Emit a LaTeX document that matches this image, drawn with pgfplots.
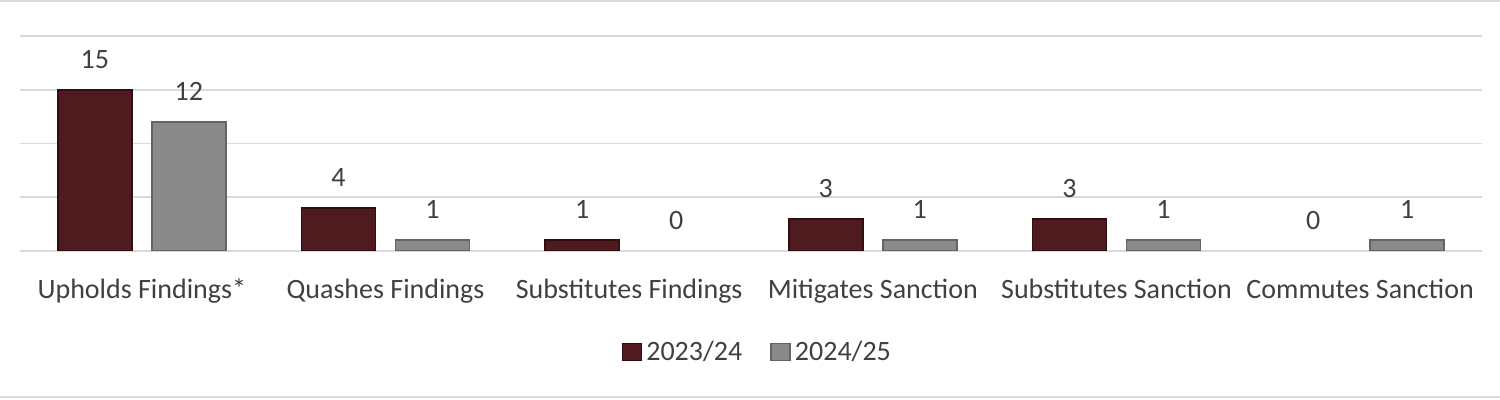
\documentclass[border=0pt]{standalone}
\usepackage{fontspec}
\setmainfont{Carlito}
\usepackage{pgfplots}
\pgfplotsset{compat=1.18}
\definecolor{maroon}{RGB}{80,27,31}
\definecolor{maroontop}{RGB}{140,80,84}
\definecolor{maroonbot}{RGB}{58,17,20}
\definecolor{maroonedge}{RGB}{48,14,17}
\definecolor{barg}{RGB}{138,138,138}
\definecolor{bargtop}{RGB}{200,200,200}
\definecolor{bargbot}{RGB}{112,112,112}
\definecolor{bargedge}{RGB}{100,100,100}
\definecolor{gridc}{RGB}{217,217,217}
\definecolor{txt}{RGB}{64,64,64}
\pgfdeclareverticalshading{mshade}{100bp}{color(0bp)=(maroonbot); color(4bp)=(maroonbot); color(8bp)=(maroon); color(88bp)=(maroon); color(92bp)=(maroontop); color(96bp)=(maroontop); color(100bp)=(maroontop)}
\pgfdeclareverticalshading{gshade}{100bp}{color(0bp)=(bargbot); color(4bp)=(bargbot); color(8bp)=(barg); color(88bp)=(barg); color(92bp)=(bargtop); color(96bp)=(bargtop); color(100bp)=(bargtop)}
\begin{document}
\begin{tikzpicture}
\path[use as bounding box] (0,0) rectangle (750pt,200pt);
\draw[gridc, line width=1pt] (0,199.4pt) -- (750pt,199.4pt);
\draw[gridc, line width=1pt] (0,1.3pt) -- (750pt,1.3pt);
\begin{axis}[
  at={(10pt,74.5pt)}, anchor=south west,
  scale only axis, width=731pt, height=107.5pt,
  xmin=-0.5, xmax=5.5, ymin=0, ymax=20,
  axis line style={draw=none},
  major tick length=0pt,
  ytick={0,5,10,15,20}, yticklabels={},
  ymajorgrids, grid style={gridc, line width=0.8pt},
  xtick={0,1,2,3,4,5},
  xticklabels={Upholds Findings*, Quashes Findings, Substitutes Findings, Mitigates Sanction, Substitutes Sanction, Commutes Sanction},
  x tick label style={font=\fontsize{14}{16}\selectfont, text=txt, text height=10pt, text depth=3pt, yshift=-10pt},
  bar width=37pt,
  nodes near coords,
  every node near coord/.append style={font=\fontsize{14}{16}\selectfont, text=txt, yshift=7pt},
  /pgf/number format/assume math mode=true,
  legend style={at={(0.505,-0.47)}, anchor=center, draw=none, fill=none, legend columns=2,
    font=\fontsize{14}{16}\selectfont, text=txt,
    /tikz/every even column/.append style={column sep=12pt}},
  legend image code/.code={\filldraw[#1] (0pt,-4.3pt) rectangle (9.5pt,4.3pt);},
]
\addplot[ybar, bar shift=-23.5pt, fill=maroon, shade, shading=mshade, draw=maroonedge, line width=0.8pt,
  every node near coord/.append style={xshift=-23.5pt}] coordinates {(0,15) (1,4) (2,1) (3,3) (4,3)};
\addplot[ybar, bar shift=23.5pt, fill=barg, shade, shading=gshade, draw=bargedge, line width=0.8pt,
  every node near coord/.append style={xshift=23.5pt}] coordinates {(0,12) (1,1) (3,1) (4,1) (5,1)};
\addplot[ybar, bar shift=-23.5pt, draw=none, fill=none, forget plot,
  every node near coord/.append style={xshift=-23.5pt}] coordinates {(5,0)};
\addplot[ybar, bar shift=23.5pt, draw=none, fill=none, forget plot,
  every node near coord/.append style={xshift=23.5pt}] coordinates {(2,0)};
\legend{2023/24, 2024/25}
\end{axis}
\end{tikzpicture}
\end{document}
